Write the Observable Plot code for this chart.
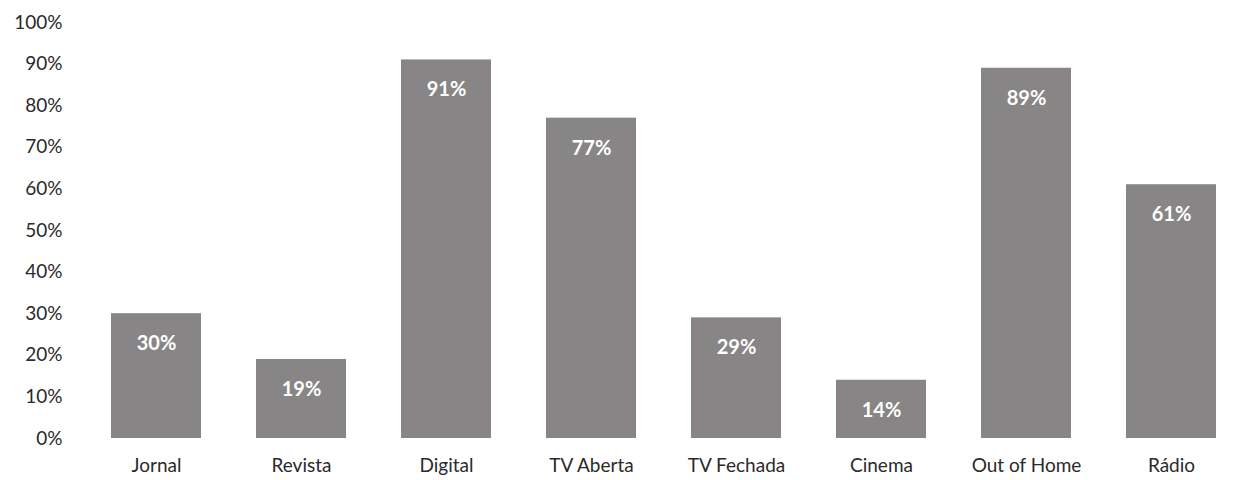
<!DOCTYPE html>
<html>
<head>
<meta charset="utf-8">
<script src="https://cdn.jsdelivr.net/npm/d3@7"></script>
<script src="https://cdn.jsdelivr.net/npm/@observablehq/plot@0.6"></script>
<style>
  html, body { margin: 0; padding: 0; background: #fff; }
  #chart svg { display: block; }
</style>
</head>
<body>
<div id="chart"></div>
<script>
const categories = ["Jornal", "Revista", "Digital", "TV Aberta", "TV Fechada", "Cinema", "Out of Home", "Rádio"];
const values = [30, 19, 91, 77, 29, 14, 89, 61];
const yTicks = [0, 10, 20, 30, 40, 50, 60, 70, 80, 90, 100];

const data = categories.map((c, i) => ({category: c, value: values[i]}));

const chart = Plot.plot({
  width: 1258,
  height: 480,
  marginTop: 22,
  marginBottom: 42,
  marginLeft: 83,
  marginRight: 14,
  style: {fontFamily: "Lato, 'Open Sans', sans-serif", fontSize: "19px", color: "#2a2a2a"},
  x: {domain: categories, paddingInner: 0.38, paddingOuter: 0.19, label: null, tickSize: 0, tickPadding: 20},
  y: {domain: [0, 100], ticks: yTicks, tickFormat: d => d + "%", label: null, tickSize: 0, tickPadding: 21},
  marks: [
    Plot.barY(data, {x: "category", y: "value", fill: "#878585"}),
    Plot.text(data, {x: "category", y: "value", text: d => d.value + "%", dy: 30, fill: "#fff", fontWeight: "bold", fontSize: 20})
  ]
});
document.getElementById("chart").appendChild(chart);
</script>
</body>
</html>
